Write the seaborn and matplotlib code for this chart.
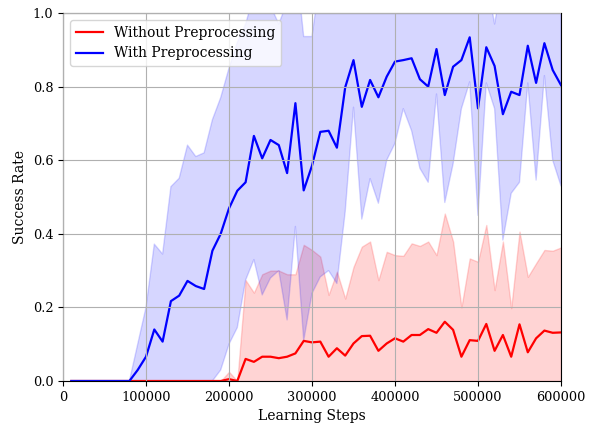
import numpy as np
import pandas as pd
import matplotlib
matplotlib.use("Agg")
import matplotlib.pyplot as plt
import seaborn as sns

steps = list(range(10000, 600001, 10000))

with_mean = [0, 0, 0, 0, 0, 0, 0, 0, 0.03, 0.066,
             0.14, 0.107, 0.217, 0.232, 0.272, 0.258, 0.25, 0.354, 0.40, 0.469,
             0.517, 0.54, 0.666, 0.605, 0.655, 0.641, 0.565, 0.755, 0.518, 0.585,
             0.677, 0.68, 0.634, 0.798, 0.872, 0.745, 0.818, 0.771, 0.827, 0.868,
             0.872, 0.877, 0.82, 0.80, 0.902, 0.777, 0.854, 0.872, 0.934, 0.741,
             0.907, 0.856, 0.725, 0.786, 0.777, 0.911, 0.81, 0.918, 0.845, 0.804]
with_upper = [0, 0, 0, 0, 0, 0, 0, 0, 0.10, 0.20,
              0.372, 0.345, 0.528, 0.551, 0.641, 0.61, 0.62, 0.71, 0.77, 0.85,
              0.92, 0.97, 1.05, 1.08, 1.02, 0.97, 1.03, 1.15, 0.936, 0.936,
              1.1, 1.12, 1.0, 1.15, 1.2, 1.1, 1.15, 1.1, 1.15, 1.2,
              1.2, 1.2, 1.15, 1.1, 1.2, 1.1, 1.15, 1.2, 1.2, 1.1,
              1.1, 0.97, 1.1, 1.1, 1.05, 1.2, 1.1, 1.2, 1.1, 1.1]
with_lower = [0, 0, 0, 0, 0, 0, 0, 0, 0, 0,
              0, 0, 0, 0, 0, 0, 0, 0, 0.03, 0.10,
              0.145, 0.274, 0.33, 0.234, 0.28, 0.30, 0.166, 0.42, 0.11, 0.238,
              0.283, 0.30, 0.265, 0.46, 0.744, 0.44, 0.55, 0.483, 0.60, 0.646,
              0.74, 0.68, 0.578, 0.54, 0.78, 0.485, 0.59, 0.74, 0.813, 0.45,
              0.81, 0.74, 0.383, 0.51, 0.54, 0.81, 0.546, 0.83, 0.60, 0.53]

without_mean = [0, 0, 0, 0, 0, 0, 0, 0, 0, 0,
                0, 0, 0, 0, 0, 0, 0, 0, 0, 0.005,
                0.0, 0.06, 0.052, 0.066, 0.066, 0.062, 0.066, 0.075, 0.109, 0.105,
                0.107, 0.066, 0.089, 0.069, 0.102, 0.122, 0.123, 0.082, 0.102, 0.116,
                0.107, 0.125, 0.125, 0.141, 0.131, 0.161, 0.139, 0.066, 0.111, 0.109,
                0.155, 0.082, 0.125, 0.066, 0.154, 0.078, 0.116, 0.137, 0.131, 0.132]
without_upper = [0, 0, 0, 0, 0, 0, 0, 0, 0, 0,
                 0, 0, 0, 0, 0, 0, 0, 0, 0, 0.025,
                 0.0, 0.274, 0.24, 0.29, 0.30, 0.30, 0.29, 0.29, 0.37, 0.356,
                 0.338, 0.234, 0.297, 0.224, 0.31, 0.365, 0.379, 0.274, 0.351, 0.342,
                 0.34, 0.374, 0.367, 0.379, 0.342, 0.455, 0.379, 0.20, 0.333, 0.324,
                 0.424, 0.247, 0.379, 0.198, 0.406, 0.283, 0.32, 0.356, 0.354, 0.363]
without_lower = [0] * 60

xticks = [0, 100000, 200000, 300000, 400000, 500000, 600000]
yticks = [0.0, 0.2, 0.4, 0.6, 0.8, 1.0]

plt.rcParams['font.family'] = ['DejaVu Serif']

fig = plt.figure(figsize=(5.89, 4.25), dpi=100)
ax = fig.add_axes([63/589, 1-381/425, (561-63)/589, (381-13)/425])

ax.fill_between(steps, without_lower, without_upper, color='red', alpha=0.17)
ax.fill_between(steps, with_lower, with_upper, color='blue', alpha=0.16)
sns.lineplot(x=steps, y=without_mean, color='red', lw=1.6, label='Without Preprocessing', ax=ax)
sns.lineplot(x=steps, y=with_mean, color='blue', lw=1.6, label='With Preprocessing', ax=ax)

ax.set_xlim(0, 600000)
ax.set_ylim(0, 1.0)
ax.set_xticks(xticks)
ax.set_yticks(yticks)
ax.set_xticklabels([str(t) for t in xticks])
ax.set_yticklabels([f"{t:.1f}" for t in yticks])
ax.tick_params(labelsize=9.3)
ax.grid(True, color='#b0b0b0', lw=0.8)
ax.set_axisbelow(False)
ax.set_xlabel('Learning Steps', fontsize=10)
ax.set_ylabel('Success Rate', fontsize=10)
ax.legend(loc='upper left', fontsize=10)

fig.savefig('out.png', dpi=100)
